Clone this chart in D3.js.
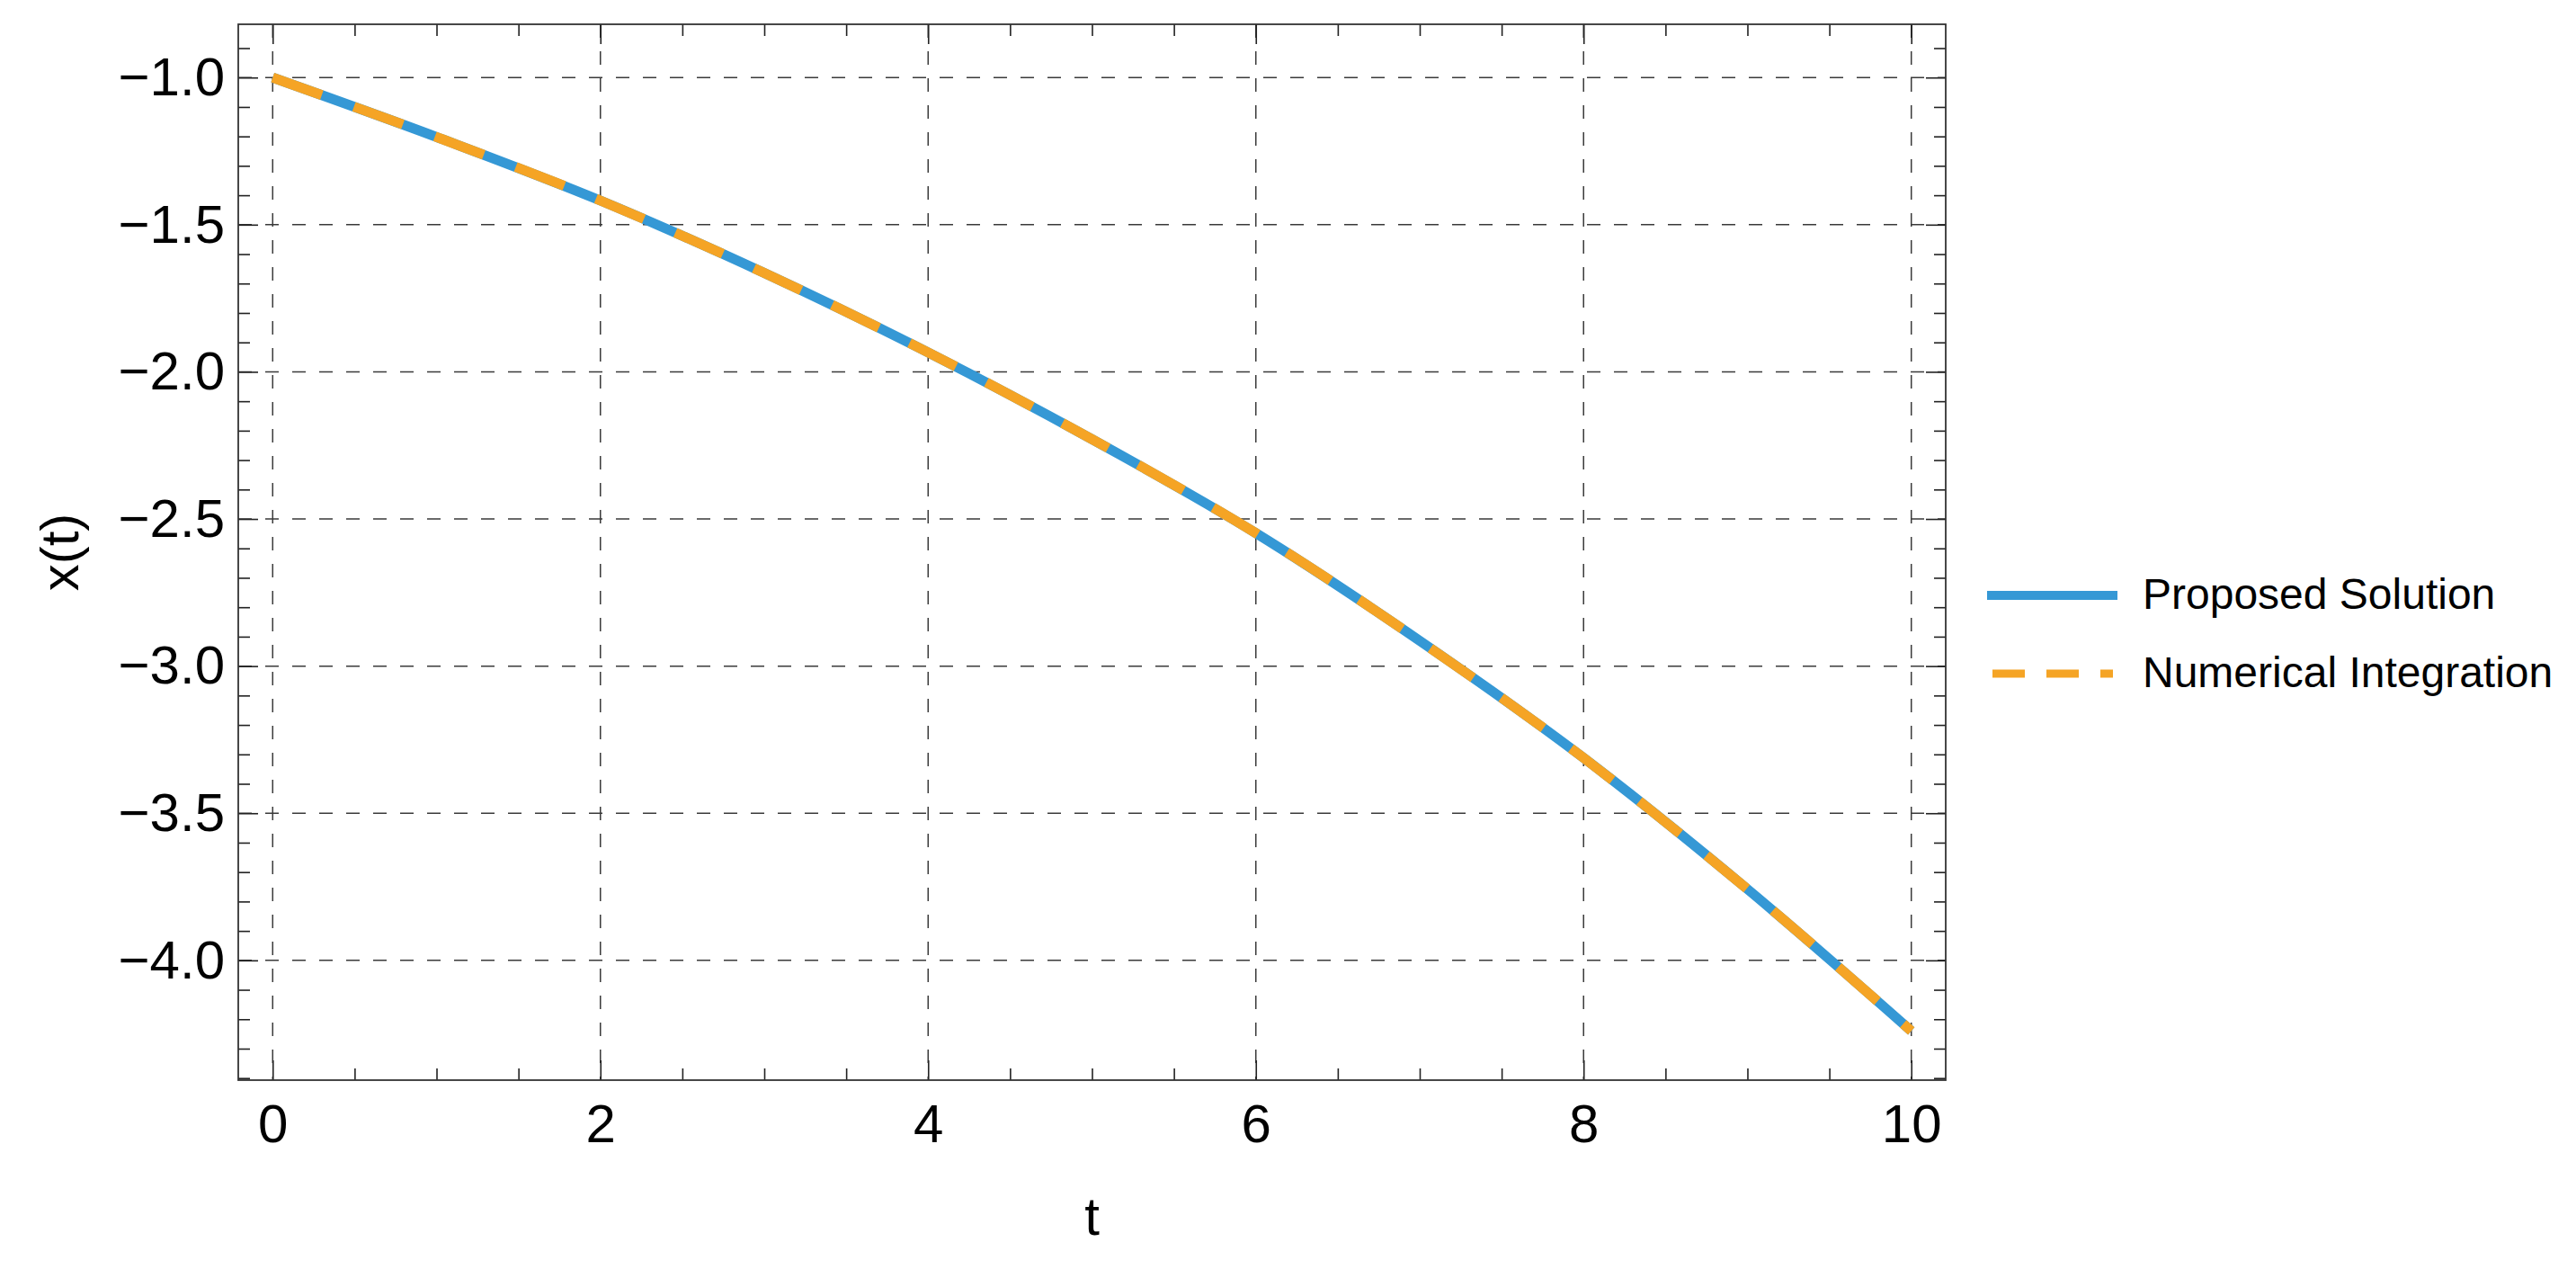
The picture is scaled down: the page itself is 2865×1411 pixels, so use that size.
<!DOCTYPE html>
<html>
<head>
<meta charset="utf-8">
<script src="https://cdn.jsdelivr.net/npm/d3@7"></script>
<style>
    body { margin: 0; background: #fff; }
    svg { display: block; }
</style>
</head>
<body>
<svg id="viz"></svg>
<script>
var width = 2865;
var height = 1411;

// values
var tValues = [0, 1, 2, 3, 4, 5, 6, 7, 8, 9, 10];
var proposedValues = [-1.000, -1.202, -1.418, -1.664, -1.934, -2.229, -2.548, -2.914, -3.312, -3.758, -4.240];
var numericalValues = [-1.000, -1.202, -1.418, -1.664, -1.934, -2.229, -2.548, -2.914, -3.312, -3.758, -4.240];
var xTicks = [0, 2, 4, 6, 8, 10];
var yTicks = [-1.0, -1.5, -2.0, -2.5, -3.0, -3.5, -4.0];
var seriesNames = ["Proposed Solution", "Numerical Integration"];
var seriesColors = ["#3598d5", "#f5a425"];

var margin = { left: 265, right: 701, top: 27, bottom: 210 };
var plotW = width - margin.left - margin.right;
var plotH = height - margin.top - margin.bottom;

var x = d3.scaleLinear().domain([-0.21, 10.21]).range([0, plotW]);
var y = d3.scaleLinear().domain([-4.407, -0.819]).range([plotH, 0]);

var svg = d3.select("#viz").attr("width", width).attr("height", height);
var g = svg.append("g").attr("transform", "translate(" + margin.left + "," + margin.top + ")");

var font = "Arial, 'Liberation Sans', sans-serif";
var fmt = function (d) { return d3.format(".1f")(d).replace("-", "\u2212"); };

// dashed grid
g.append("g").selectAll("line").data(xTicks).enter().append("line")
    .attr("x1", function (d) { return x(d); }).attr("x2", function (d) { return x(d); })
    .attr("y1", 0).attr("y2", plotH)
    .attr("stroke", "#3a3a3a").attr("stroke-width", 1.5).attr("stroke-dasharray", "15,15");
g.append("g").selectAll("line").data(yTicks).enter().append("line")
    .attr("y1", function (d) { return y(d); }).attr("y2", function (d) { return y(d); })
    .attr("x1", 0).attr("x2", plotW)
    .attr("stroke", "#3a3a3a").attr("stroke-width", 1.5).attr("stroke-dasharray", "15,15");

// axes on all four sides, ticks inward
var xMinor = d3.range(0, 10.01, 0.5).filter(function (d) { return d % 2 !== 0; });
var yMinor = d3.range(-4.4, -0.85, 0.1).map(function (d) { return Math.round(d * 10) / 10; })
    .filter(function (d) { return yTicks.indexOf(d) < 0; });

function styleAxis(sel) {
    sel.select(".domain").remove();
    sel.selectAll("line").attr("stroke", "#222").attr("stroke-width", 1.6);
    sel.selectAll("text").attr("font-family", font).attr("font-size", 60).attr("fill", "#000");
}

g.append("g").attr("transform", "translate(0," + plotH + ")")
    .call(d3.axisBottom(x).tickValues(xTicks).tickSize(-22).tickPadding(26).tickFormat(d3.format("d")))
    .call(styleAxis);
g.append("g").attr("transform", "translate(0," + plotH + ")")
    .call(d3.axisBottom(x).tickValues(xMinor).tickSize(-13).tickFormat(""))
    .call(styleAxis);
g.append("g")
    .call(d3.axisTop(x).tickValues(xTicks).tickSize(-22).tickFormat(""))
    .call(styleAxis);
g.append("g")
    .call(d3.axisTop(x).tickValues(xMinor).tickSize(-13).tickFormat(""))
    .call(styleAxis);

g.append("g")
    .call(d3.axisLeft(y).tickValues(yTicks).tickSize(-22).tickPadding(15).tickFormat(fmt))
    .call(styleAxis);
g.append("g")
    .call(d3.axisLeft(y).tickValues(yMinor).tickSize(-13).tickFormat(""))
    .call(styleAxis);
g.append("g").attr("transform", "translate(" + plotW + ",0)")
    .call(d3.axisRight(y).tickValues(yTicks).tickSize(-22).tickFormat(""))
    .call(styleAxis);
g.append("g").attr("transform", "translate(" + plotW + ",0)")
    .call(d3.axisRight(y).tickValues(yMinor).tickSize(-13).tickFormat(""))
    .call(styleAxis);

// frame
g.append("rect").attr("width", plotW).attr("height", plotH)
    .attr("fill", "none").attr("stroke", "#333").attr("stroke-width", 1.8);

// curves
var line = d3.line()
    .x(function (d) { return x(d[0]); })
    .y(function (d) { return y(d[1]); })
    .curve(d3.curveMonotoneX);

g.append("path")
    .datum(tValues.map(function (t, i) { return [t, proposedValues[i]]; }))
    .attr("d", line).attr("fill", "none")
    .attr("stroke", seriesColors[0]).attr("stroke-width", 11);

g.append("path")
    .datum(tValues.map(function (t, i) { return [t, numericalValues[i]]; }))
    .attr("d", line).attr("fill", "none")
    .attr("stroke", seriesColors[1]).attr("stroke-width", 11)
    .attr("stroke-dasharray", "58,38");

// axis labels
svg.append("text")
    .attr("x", margin.left + plotW / 2).attr("y", 1373)
    .attr("text-anchor", "middle")
    .attr("font-family", font).attr("font-size", 60)
    .text("t");

svg.append("text")
    .attr("transform", "translate(87," + (margin.top + plotH / 2) + ") rotate(-90)")
    .attr("text-anchor", "middle")
    .attr("font-family", font).attr("font-size", 60)
    .text("x(t)");

// legend
var legend = svg.append("g");
legend.append("line")
    .attr("x1", 2210).attr("x2", 2355).attr("y1", 662).attr("y2", 662)
    .attr("stroke", seriesColors[0]).attr("stroke-width", 10);
legend.append("line")
    .attr("x1", 2216).attr("x2", 2350).attr("y1", 749).attr("y2", 749)
    .attr("stroke", seriesColors[1]).attr("stroke-width", 9)
    .attr("stroke-dasharray", "36,24");

legend.selectAll("text").data(seriesNames).enter().append("text")
    .attr("x", 2383)
    .attr("y", function (d, i) { return i === 0 ? 677 : 764; })
    .attr("font-family", font).attr("font-size", 48)
    .text(function (d) { return d; });
</script>
</body>
</html>
